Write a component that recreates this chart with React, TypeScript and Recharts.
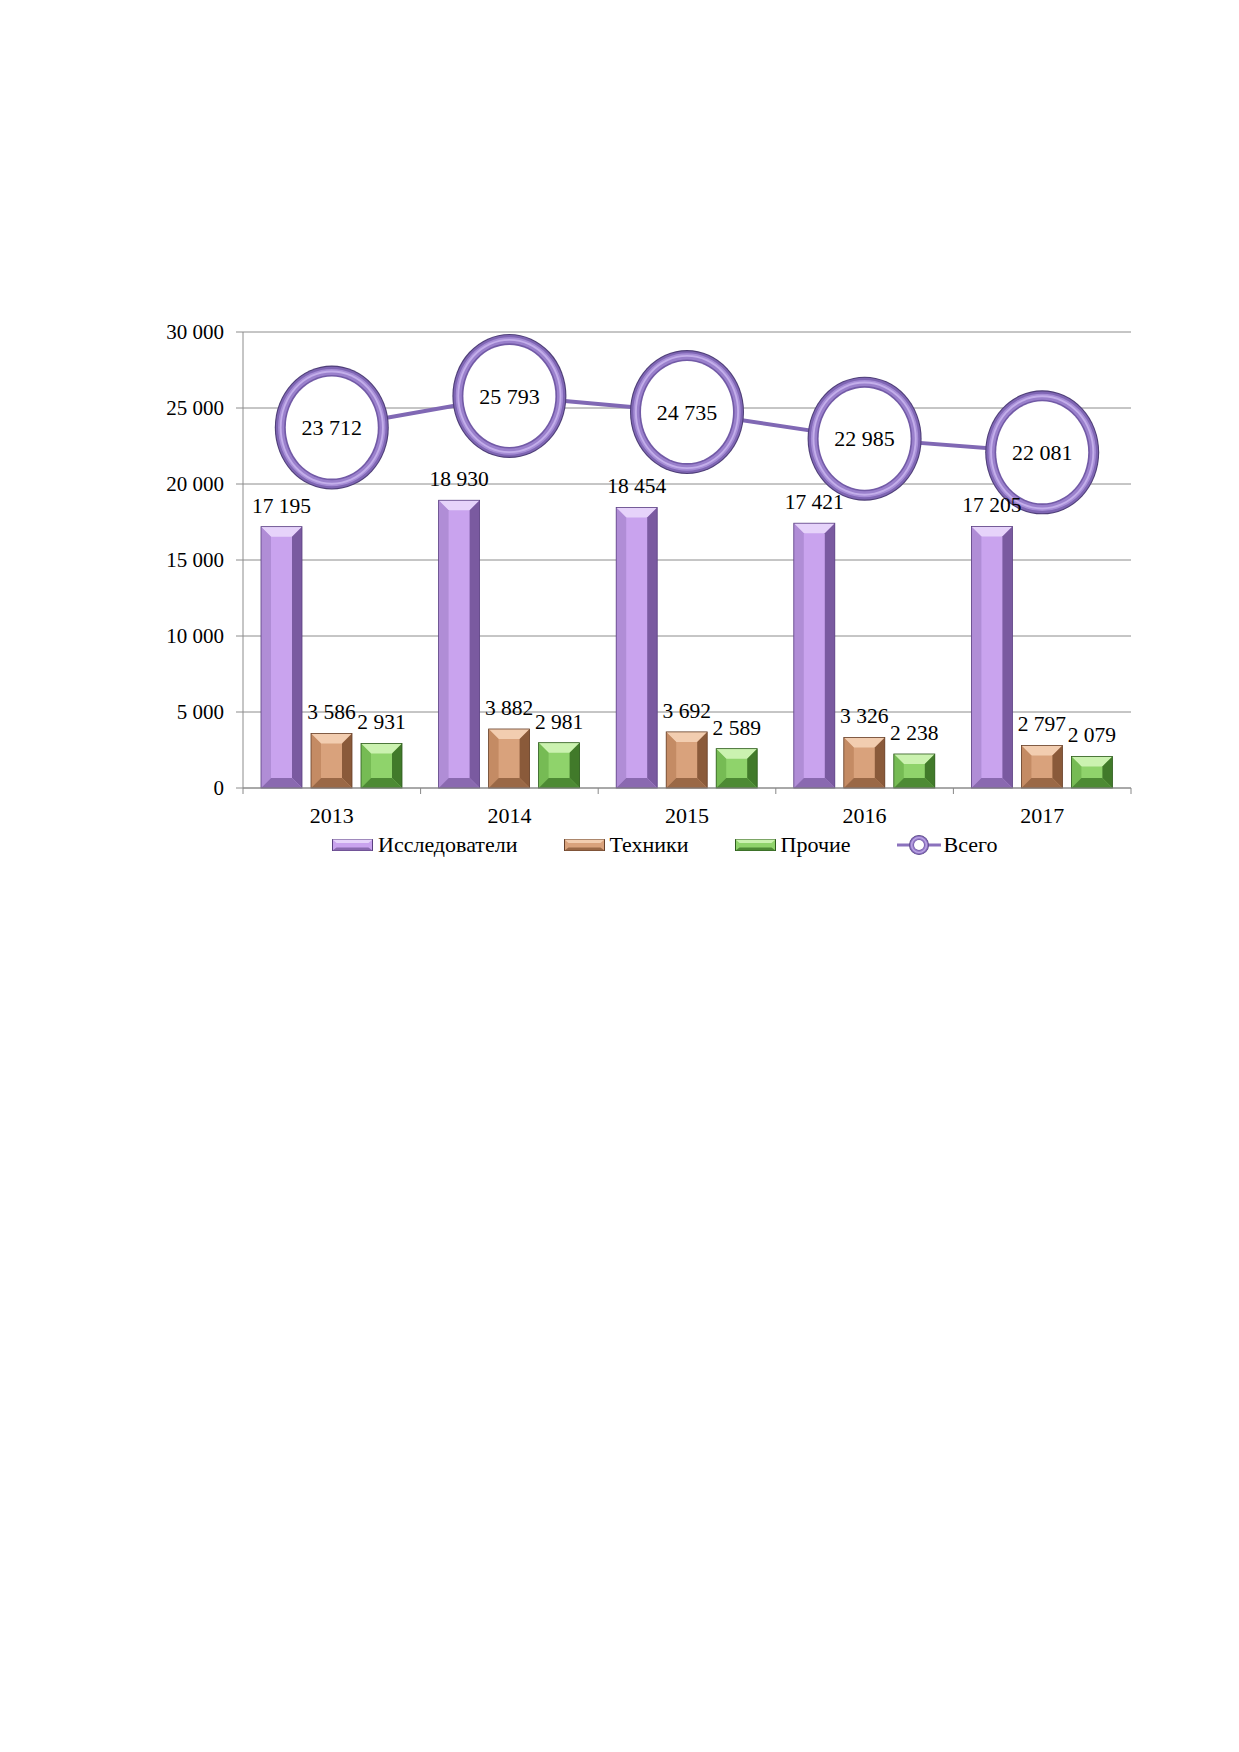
import React from 'react';
import { ComposedChart, Bar, Line, XAxis, YAxis, CartesianGrid, Legend, LabelList } from 'recharts';

const years = ['2013', '2014', '2015', '2016', '2017'];
const researchers = [17195, 18930, 18454, 17421, 17205];
const technicians = [3586, 3882, 3692, 3326, 2797];
const others = [2931, 2981, 2589, 2238, 2079];
const totals = [23712, 25793, 24735, 22985, 22081];
const yTicks = [0, 5000, 10000, 15000, 20000, 25000, 30000];

const data = years.map((year, i) => ({
  year,
  researchers: researchers[i],
  technicians: technicians[i],
  others: others[i],
  total: totals[i],
}));

const FONT = '"Liberation Serif", "Times New Roman", serif';

// thousands separated by a space, e.g. 17 195
const fmt = (v: number) => String(v).replace(/\B(?=(\d{3})+(?!\d))/g, '\u00A0');

const palettes: Record<string, { face: string; top: string; left: string; right: string; bottom: string; line: string }> = {
  researchers: { face: '#c9a3ee', top: '#e6d3fa', left: '#b08dd6', right: '#7a5aa0', bottom: '#8a69b0', line: '#5a4080' },
  technicians: { face: '#d9a27c', top: '#f2cdb0', left: '#c48b64', right: '#8a5a3a', bottom: '#9a6846', line: '#66402a' },
  others: { face: '#8fd36b', top: '#cbf2b0', left: '#76bb54', right: '#417a2a', bottom: '#4d8a34', line: '#2e5a1e' },
};

const BevelBar = (props: any) => {
  const { x, y, width, height, dataKey } = props;
  const p = palettes[dataKey] || palettes.researchers;
  if (!height || height <= 0) return null;
  const b = Math.min(10, width / 4, height / 2);
  const x2 = x + width;
  const y2 = y + height;
  return (
    <g>
      <rect x={x} y={y} width={width} height={height} fill={p.face} />
      <polygon points={`${x},${y} ${x2},${y} ${x2 - b},${y + b} ${x + b},${y + b}`} fill={p.top} />
      <polygon points={`${x},${y} ${x + b},${y + b} ${x + b},${y2 - b} ${x},${y2}`} fill={p.left} />
      <polygon points={`${x2},${y} ${x2},${y2} ${x2 - b},${y2 - b} ${x2 - b},${y + b}`} fill={p.right} />
      <polygon points={`${x},${y2} ${x + b},${y2 - b} ${x2 - b},${y2 - b} ${x2},${y2}`} fill={p.bottom} />
      <rect x={x} y={y} width={width} height={height} fill="none" stroke={p.line} strokeWidth={0.8} />
    </g>
  );
};

const Ring = ({ cx, cy, rx, ry, t }: { cx: number; cy: number; rx: number; ry: number; t: number }) => (
  <g>
    <ellipse cx={cx} cy={cy} rx={rx} ry={ry} fill="#4f3f78" />
    <ellipse cx={cx} cy={cy} rx={rx - t * 0.1} ry={ry - t * 0.1} fill="#7f66b4" />
    <ellipse cx={cx} cy={cy} rx={rx - t * 0.3} ry={ry - t * 0.3} fill="#a68dd6" />
    <ellipse cx={cx} cy={cy} rx={rx - t * 0.45} ry={ry - t * 0.45} fill="#c3aeea" />
    <ellipse cx={cx} cy={cy} rx={rx - t * 0.62} ry={ry - t * 0.62} fill="#9a80cc" />
    <ellipse cx={cx} cy={cy} rx={rx - t * 0.85} ry={ry - t * 0.85} fill="#725aa6" />
    <ellipse cx={cx} cy={cy} rx={rx - t} ry={ry - t} fill="#ffffff" />
  </g>
);

const TotalDot = (props: any) => {
  const { cx, cy, payload, index } = props;
  if (cx == null || cy == null) return null;
  return (
    <g key={`dot-${index}`}>
      <Ring cx={cx} cy={cy} rx={57} ry={62} t={11} />
      <text x={cx} y={cy} dy="0.35em" textAnchor="middle" fontSize={22} fontFamily={FONT} fill="#000">
        {fmt(payload.total)}
      </text>
    </g>
  );
};

const YearTick = (props: any) => {
  const { x, y, payload, index, visibleTicksCount, width } = props;
  const off = payload && payload.offset ? payload.offset : width && visibleTicksCount ? width / visibleTicksCount / 2 : 0;
  return (
    <g>
      {off > 0 && <line x1={x - off} x2={x - off} y1={y} y2={y + 6} stroke="#888" />}
      {off > 0 && index === visibleTicksCount - 1 && <line x1={x + off} x2={x + off} y1={y} y2={y + 6} stroke="#888" />}
      <text x={x} y={y + 35} textAnchor="middle" fontSize={22} fontFamily={FONT} fill="#000">
        {payload.value}
      </text>
    </g>
  );
};

const LegendIcon = ({ k }: { k: string }) => {
  const p = palettes[k];
  return (
    <svg width={41} height={12} style={{ marginRight: 5 }}>
      <rect x={0.5} y={0.5} width={40} height={11} fill={p.face} stroke={p.line} />
      <polygon points="0.5,0.5 40.5,0.5 36.5,4 4.5,4" fill={p.top} />
      <polygon points="0.5,11.5 4.5,8.5 36.5,8.5 40.5,11.5" fill={p.bottom} />
    </svg>
  );
};

const legendItems = [
  { key: 'researchers', label: 'Исследователи' },
  { key: 'technicians', label: 'Техники' },
  { key: 'others', label: 'Прочие' },
];

const ChartLegend = () => (
  <div style={{ display: 'flex', alignItems: 'center', height: 26, paddingLeft: 332, fontFamily: FONT, fontSize: 22, color: '#000' }}>
    {legendItems.map((it) => (
      <div key={it.key} style={{ display: 'flex', alignItems: 'center', marginRight: 46 }}>
        <LegendIcon k={it.key} />
        <span>{it.label}</span>
      </div>
    ))}
    <div style={{ display: 'flex', alignItems: 'center' }}>
      <svg width={44} height={22} style={{ marginRight: 3 }}>
        <line x1={0} x2={44} y1={11} y2={11} stroke="#8b72bd" strokeWidth={3} />
        <Ring cx={22} cy={11} rx={10} ry={10} t={5} />
      </svg>
      <span>Всего</span>
    </div>
  </div>
);

const App: React.FC = () => {
  return (
    <div style={{ position: 'absolute', left: 0, top: 0, width: 1239, height: 1752, background: '#fff', fontFamily: FONT }}>
      <ComposedChart
        width={1239}
        height={900}
        data={data}
        margin={{ top: 332, right: 108, left: 0, bottom: 42 }}
        barCategoryGap={18}
        barGap={9}
      >
        <CartesianGrid vertical={false} stroke="#8c8c8c" />
        <XAxis
          dataKey="year"
          height={44}
          tickLine={false}
          tickSize={0}
          tickMargin={0}
          axisLine={{ stroke: '#8c8c8c' }}
          tick={<YearTick />}
          interval={0}
        />
        <YAxis
          width={243}
          domain={[0, 30000]}
          ticks={yTicks}
          tickFormatter={fmt}
          tickSize={7}
          tickMargin={12}
          axisLine={{ stroke: '#8c8c8c' }}
          tickLine={{ stroke: '#8c8c8c' }}
          tick={{ fontSize: 21, fontFamily: FONT, fill: '#000' }}
        />
        <Legend verticalAlign="bottom" content={<ChartLegend />} />
        <Bar dataKey="researchers" name="Исследователи" fill="#c9a3ee" shape={<BevelBar dataKey="researchers" />} isAnimationActive={false}>
          <LabelList dataKey="researchers" position="top" offset={14} formatter={fmt} style={{ fontSize: 21.5, fontFamily: FONT, fill: '#000' }} />
        </Bar>
        <Bar dataKey="technicians" name="Техники" fill="#d9a27c" shape={<BevelBar dataKey="technicians" />} isAnimationActive={false}>
          <LabelList dataKey="technicians" position="top" offset={14} formatter={fmt} style={{ fontSize: 21.5, fontFamily: FONT, fill: '#000' }} />
        </Bar>
        <Bar dataKey="others" name="Прочие" fill="#8fd36b" shape={<BevelBar dataKey="others" />} isAnimationActive={false}>
          <LabelList dataKey="others" position="top" offset={14} formatter={fmt} style={{ fontSize: 21.5, fontFamily: FONT, fill: '#000' }} />
        </Bar>
        <Line
          dataKey="total"
          name="Всего"
          stroke="#8068b4"
          strokeWidth={4}
          dot={(p: any) => <TotalDot key={`d${p.index}`} {...p} />}
          activeDot={false}
          isAnimationActive={false}
        />
      </ComposedChart>
    </div>
  );
};

export default App;
